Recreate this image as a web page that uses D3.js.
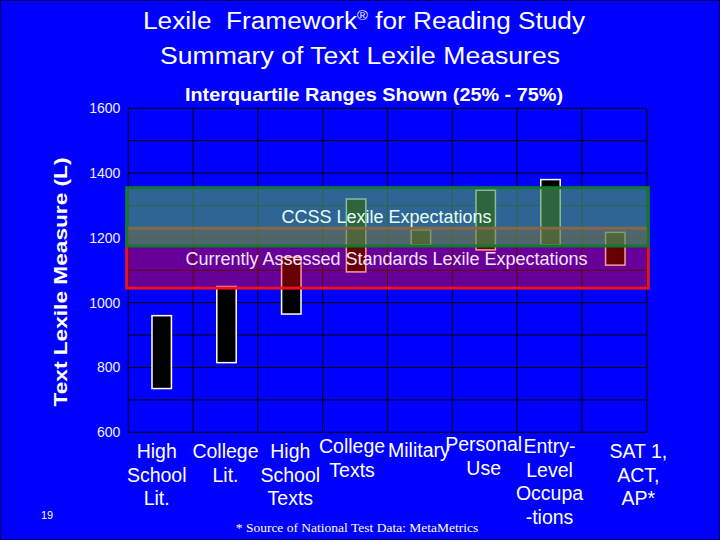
<!DOCTYPE html>
<html>
<head>
<meta charset="utf-8">
<script src="https://cdn.jsdelivr.net/npm/d3@7"></script>
<style>
  html, body { margin: 0; padding: 0; background: #0000ff; }
  svg { display: block; font-family: "Liberation Sans", Arial, sans-serif; }
</style>
</head>
<body>
<script>
// interquartile ranges
const categories = [
  ['High', 'School', 'Lit.'],
  ['College', 'Lit.'],
  ['High', 'School', 'Texts'],
  ['College', 'Texts'],
  ['Military'],
  ['Personal', 'Use'],
  ['Entry-', 'Level', 'Occupa', '-tions'],
  ['SAT 1,', 'ACT,', 'AP*']
];
const q25 = [735, 815, 965, 1095, 1178, 1163, 1178, 1116];
const q75 = [960, 1050, 1140, 1320, 1225, 1347, 1380, 1217];
const currentBand = [1045, 1230];
const ccssBand = [1175, 1355];
const yTicks = [600, 800, 1000, 1200, 1400, 1600];

const width = 720,
  height = 540;

// plot box
const plotLeft = 128.3,
  plotRight = 646.7,
  plotTop = 108.3,
  plotBottom = 432.3;

// small per-label nudges, the slide's text boxes are not quite centred
const labelShift = [[-4, 0], [0, 0], [0, 0], [-3, -5], [-1, -1], [-1, -7], [0, -5], [24, 0]];

const svg = d3
  .select('body')
  .append('svg')
  .attr('width', width)
  .attr('height', height);

svg
  .append('rect')
  .attr('width', width)
  .attr('height', height)
  .attr('fill', '#0000ff')
  .attr('stroke', '#000060')
  .attr('stroke-width', 2);

const x = d3
  .scaleBand()
  .domain(d3.range(categories.length))
  .range([plotLeft, plotRight])
  .padding(0);

const y = d3.scaleLinear().domain([600, 1600]).range([plotBottom, plotTop]);

// grid
const grid = svg.append('g').attr('stroke', '#000000').attr('stroke-width', 1);
grid
  .selectAll('line.h')
  .data(d3.range(600, 1601, 100))
  .join('line')
  .attr('class', 'h')
  .attr('x1', plotLeft)
  .attr('x2', plotRight)
  .attr('y1', d => y(d))
  .attr('y2', d => y(d));
grid
  .selectAll('line.v')
  .data(d3.range(categories.length + 1))
  .join('line')
  .attr('class', 'v')
  .attr('x1', d => plotLeft + d * x.step())
  .attr('x2', d => plotLeft + d * x.step())
  .attr('y1', plotTop)
  .attr('y2', plotBottom);

// y axis labels
const yAxis = d3
  .axisLeft(y)
  .tickValues(yTicks)
  .tickFormat(d3.format('d'))
  .tickSize(0)
  .tickPadding(8);
const ag = svg
  .append('g')
  .attr('transform', `translate(${plotLeft},0)`)
  .call(yAxis);
ag.select('.domain').remove();
ag.selectAll('text')
  .attr('fill', '#f0f0ff')
  .attr('font-size', 14)
  .attr('font-family', '"Liberation Sans", Arial, sans-serif');

// bars
const barW = x.bandwidth() * 0.3;
svg
  .append('g')
  .selectAll('rect')
  .data(q25)
  .join('rect')
  .attr('x', (d, i) => x(i) + x.bandwidth() / 2 - barW / 2 + 1)
  .attr('y', (d, i) => y(q75[i]))
  .attr('width', barW)
  .attr('height', (d, i) => y(d) - y(q75[i]))
  .attr('fill', '#000000')
  .attr('stroke', '#ffffff')
  .attr('stroke-width', 1.5);

// expectation bands, translucent over the bars
svg
  .append('rect')
  .attr('x', plotLeft - 1.6)
  .attr('width', plotRight - plotLeft + 3.2)
  .attr('y', y(currentBand[1]))
  .attr('height', y(currentBand[0]) - y(currentBand[1]))
  .attr('fill', 'rgba(255,0,0,0.4)')
  .attr('stroke', '#ee1020')
  .attr('stroke-width', 3);

svg
  .append('rect')
  .attr('x', plotLeft - 1.6)
  .attr('width', plotRight - plotLeft + 3.2)
  .attr('y', y(ccssBand[1]))
  .attr('height', y(ccssBand[0]) - y(ccssBand[1]))
  .attr('fill', 'rgba(70,155,92,0.65)')
  .attr('stroke', '#127a2e')
  .attr('stroke-width', 3);

svg
  .append('text')
  .attr('x', (plotLeft + plotRight) / 2 - 1)
  .attr('y', 222.7)
  .attr('text-anchor', 'middle')
  .attr('font-size', 18)
  .attr('fill', '#e6fff4')
  .text('CCSS Lexile Expectations');

svg
  .append('text')
  .attr('x', (plotLeft + plotRight) / 2 - 1)
  .attr('y', 265)
  .attr('text-anchor', 'middle')
  .attr('font-size', 18)
  .attr('fill', '#ffe4ff')
  .text('Currently Assessed Standards Lexile Expectations');

// titles
const t1 = svg
  .append('text')
  .attr('x', 364)
  .attr('y', 29)
  .attr('text-anchor', 'middle')
  .attr('font-size', 23)
  .attr('fill', '#ffffff')
  .attr('textLength', 442)
  .attr('lengthAdjust', 'spacingAndGlyphs')
  .style('white-space', 'pre');
t1.append('tspan').text('Lexile  Framework');
t1.append('tspan').attr('font-size', 13).attr('dy', -9).text('®');
t1.append('tspan').attr('dy', 9).text(' for Reading Study');

svg
  .append('text')
  .attr('x', 360)
  .attr('y', 64)
  .attr('text-anchor', 'middle')
  .attr('font-size', 23)
  .attr('fill', '#ffffff')
  .attr('textLength', 400)
  .attr('lengthAdjust', 'spacingAndGlyphs')
  .text('Summary of Text Lexile Measures');

svg
  .append('text')
  .attr('x', 374)
  .attr('y', 100.7)
  .attr('text-anchor', 'middle')
  .attr('font-size', 19)
  .attr('font-weight', 'bold')
  .attr('fill', '#ffffff')
  .attr('textLength', 378)
  .attr('lengthAdjust', 'spacingAndGlyphs')
  .text('Interquartile Ranges Shown (25% - 75%)');

svg
  .append('text')
  .attr('transform', 'translate(67,282) rotate(-90)')
  .attr('text-anchor', 'middle')
  .attr('font-size', 18)
  .attr('font-weight', 'bold')
  .attr('fill', '#ffffff')
  .attr('textLength', 249)
  .attr('lengthAdjust', 'spacingAndGlyphs')
  .text('Text Lexile Measure (L)');

// category labels
const cats = svg
  .append('g')
  .attr('font-size', 19.5)
  .attr('fill', '#ffffff')
  .attr('text-anchor', 'middle')
  .selectAll('text')
  .data(categories)
  .join('text')
  .attr('x', (d, i) => x(i) + x.bandwidth() / 2 + labelShift[i][0])
  .attr('y', (d, i) => 458 + labelShift[i][1]);
cats
  .selectAll('tspan')
  .data(d => d)
  .join('tspan')
  .attr('x', function () {
    return this.parentNode.getAttribute('x');
  })
  .attr('dy', (d, j) => (j === 0 ? 0 : 23.7))
  .text(d => d);

svg
  .append('text')
  .attr('x', 357)
  .attr('y', 532)
  .attr('text-anchor', 'middle')
  .attr('font-family', '"Liberation Serif", "Times New Roman", serif')
  .attr('font-size', 13.5)
  .attr('fill', '#ffffff')
  .text('* Source of National Test Data: MetaMetrics');

svg
  .append('text')
  .attr('x', 47)
  .attr('y', 519)
  .attr('text-anchor', 'middle')
  .attr('font-size', 11)
  .attr('fill', '#ffffff')
  .text('19');
</script>
</body>
</html>
